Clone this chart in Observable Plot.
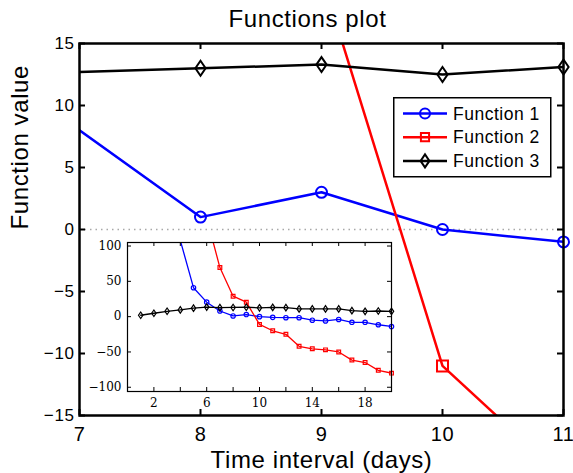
<!DOCTYPE html>
<html><head><meta charset="utf-8">
<script src="https://cdn.jsdelivr.net/npm/d3@7"></script>
<script src="https://cdn.jsdelivr.net/npm/@observablehq/plot@0.6"></script>
<style>
body{margin:0;background:#fff;}
#wrap{position:relative;width:573px;height:473px;overflow:hidden;background:#fff;}
#wrap > svg{position:absolute;overflow:visible;}
</style></head><body><div id="wrap"></div>
<script>
// ---- data ----
const title = "Functions plot";
const xLabel = "Time interval (days)";
const yLabel = "Function value";
const seriesNames = ["Function 1", "Function 2", "Function 3"];
const seriesColors = ["#0000ff", "#ff0000", "#000000"];
const days = [1,2,3,4,5,6,7,8,9,10,11,12,13,14,15,16,17,18,19,20];
const f1 = [700,400,220,108,41,20.5,8,1,3,0,-1,-1.5,-1.5,-5,-6,-4,-8,-8,-11.5,-14];
const f2 = [1400,1000,700,450,260,140,69.5,29,20.5,-11,-20,-25,-42,-45.5,-47,-50,-61.5,-65,-76,-80];
const f3 = [2,4.8,7.6,9.5,12,13.5,12.7,13,13.3,12.5,13.1,12.7,11,11,11,11,8.5,7.5,8,7.5];
const zeroLine = [0];
const mainXDomain = [7, 11], mainYDomain = [-15, 15];
const mainXTicks = [7, 8, 9, 10, 11];
const mainYTicks = [-15, -10, -5, 0, 5, 10, 15];
const insetXDomain = [0, 20], insetYDomain = [-106, 105];
const insetXTicks = [2, 4, 6, 8, 10, 12, 14, 16, 18];
const insetXTickLabels = [2, 6, 10, 14, 18];
const insetYTicks = [-100, -50, 0, 50, 100];

// ---- symbols ----
const diamondTall = {draw(ctx, size) {
  const r = Math.sqrt(size / Math.PI), w = r * 0.85, h = r * 1.25;
  ctx.moveTo(0, -h); ctx.lineTo(w, 0); ctx.lineTo(0, h); ctx.lineTo(-w, 0); ctx.closePath();
}};
const seriesSymbols = [d3.symbolCircle, d3.symbolSquare, diamondTall];
const values = [f1, f2, f3];
const rows = seriesNames.map((s, j) => days.map((d, i) => ({x: d, y: values[j][i], s})));

const wrap = document.getElementById("wrap");
const W = 573, H = 473;
const mL = 79, mR = 10, mT = 43, mB = 58;
const pW = W - mL - mR, pH = H - mT - mB;
const mainR = [5.5, 6.2, 6];

const inDom = (v, dom) => v >= dom[0] && v <= dom[1];

const mainMarks = [
  Plot.ruleY(zeroLine, {stroke: "#a8a8a8", strokeWidth: 1.5, strokeDasharray: "1.5,4"}),
  ...rows.flatMap((r, j) => [
    Plot.line(r, {x: "x", y: "y", stroke: seriesColors[j], strokeWidth: 2.5, clip: true}),
    Plot.dot(r.filter(d => d.x > mainXDomain[0] && inDom(d.x, mainXDomain) && inDom(d.y, mainYDomain)),
      {x: "x", y: "y", r: mainR[j], symbol: seriesSymbols[j], stroke: seriesColors[j], strokeWidth: 2, fill: "none"})
  ]),
  Plot.frame({stroke: "black", strokeWidth: 2.5}),
  Plot.tickY(mainYTicks, {y: d => d, insetRight: pW - 6, stroke: "black", strokeWidth: 2}),
  Plot.tickY(mainYTicks, {y: d => d, insetLeft: pW - 6, stroke: "black", strokeWidth: 2}),
  Plot.tickX(mainXTicks, {x: d => d, insetTop: pH - 6, stroke: "black", strokeWidth: 2}),
  Plot.tickX(mainXTicks, {x: d => d, insetBottom: pH - 6, stroke: "black", strokeWidth: 2}),
  Plot.axisX({ticks: mainXTicks, tickSize: 0, tickPadding: 11, fontSize: 20, label: null, tickFormat: d => String(d)}),
  Plot.axisY({ticks: mainYTicks, tickSize: 0, tickPadding: 5, fontSize: 17, label: null}),
  Plot.text([title], {text: d => d, frameAnchor: "top", lineAnchor: "middle", dy: -24.5, dx: -14, fontSize: 24}),
  Plot.text([xLabel], {text: d => d, frameAnchor: "bottom", lineAnchor: "middle", dy: 45, fontSize: 24}),
  Plot.text([yLabel], {text: d => d, frameAnchor: "left", lineAnchor: "middle", rotate: -90, dx: -59, fontSize: 24})
];

const main = Plot.plot({
  width: W, height: H,
  marginLeft: mL, marginRight: mR, marginTop: mT, marginBottom: mB,
  x: {domain: mainXDomain}, y: {domain: mainYDomain},
  style: {fontFamily: "Liberation Sans, Arial, sans-serif", letterSpacing: "0.6px", background: "white", color: "black", overflow: "visible"},
  marks: mainMarks
});
main.style.left = "0px"; main.style.top = "0px";
wrap.appendChild(main);

// ---- inset ----
const iL = 32, iR = 4, iT = 4, iB = 22;
const iW = 264, iH = 149;
const insetR = [2.2, 2.1, 2.6];
const inset = Plot.plot({
  width: iL + iW + iR, height: iT + iH + iB,
  marginLeft: iL, marginRight: iR, marginTop: iT, marginBottom: iB,
  x: {domain: insetXDomain}, y: {domain: insetYDomain},
  style: {fontFamily: "DejaVu Serif", letterSpacing: "0px", background: "transparent", color: "black", overflow: "visible"},
  marks: [
    Plot.frame({fill: "white"}),
    ...rows.flatMap((r, j) => [
      Plot.line(r, {x: "x", y: "y", stroke: seriesColors[j], strokeWidth: 1.3, clip: true}),
      Plot.dot(r.filter(d => inDom(d.y, insetYDomain)),
        {x: "x", y: "y", r: insetR[j], symbol: seriesSymbols[j], stroke: seriesColors[j], strokeWidth: 1.2, fill: "none"})
    ]),
    Plot.frame({stroke: "black", strokeWidth: 1.2}),
    Plot.tickY(insetYTicks, {y: d => d, insetRight: iW - 4, stroke: "black", strokeWidth: 1}),
    Plot.tickY(insetYTicks, {y: d => d, insetLeft: iW - 4, stroke: "black", strokeWidth: 1}),
    Plot.tickX(insetXTicks, {x: d => d, insetTop: iH - 4, stroke: "black", strokeWidth: 1}),
    Plot.tickX(insetXTicks, {x: d => d, insetBottom: iH - 4, stroke: "black", strokeWidth: 1}),
    Plot.axisX({ticks: insetXTickLabels, tickSize: 0, tickPadding: 7, fontSize: 12, label: null, tickFormat: d => String(d)}),
    Plot.axisY({ticks: insetYTicks, tickSize: 0, tickPadding: 6, fontSize: 12, label: null})
  ]
});
inset.style.left = (127 - iL) + "px"; inset.style.top = (242 - iT) + "px";
wrap.appendChild(inset);

// ---- legend ----
const leg = d3.create("svg").attr("width", 160).attr("height", 82)
  .style("left", "393px").style("top", "97px")
  .style("font-family", "Liberation Sans, Arial, sans-serif").style("letter-spacing", "0.5px");
leg.append("rect").attr("x", 0.75).attr("y", 0.75).attr("width", 157).attr("height", 79)
  .attr("fill", "white").attr("stroke", "black").attr("stroke-width", 1.5);
const legR = [5, 4.6, 5.2];
seriesNames.forEach((name, j) => {
  const y = 16.5 + j * 23.7;
  const g = leg.append("g");
  g.append("line").attr("x1", 10).attr("x2", 54).attr("y1", y).attr("y2", y)
    .attr("stroke", seriesColors[j]).attr("stroke-width", 2.5);
  g.append("path").attr("transform", `translate(32,${y})`)
    .attr("d", d3.symbol(seriesSymbols[j], legR[j] * legR[j] * Math.PI)())
    .attr("fill", "none").attr("stroke", seriesColors[j]).attr("stroke-width", 2);
  g.append("text").attr("x", 60).attr("y", y).attr("dy", "0.35em")
    .attr("font-size", 17.5).attr("fill", "black").text(name);
});
wrap.appendChild(leg.node());
</script></body></html>
